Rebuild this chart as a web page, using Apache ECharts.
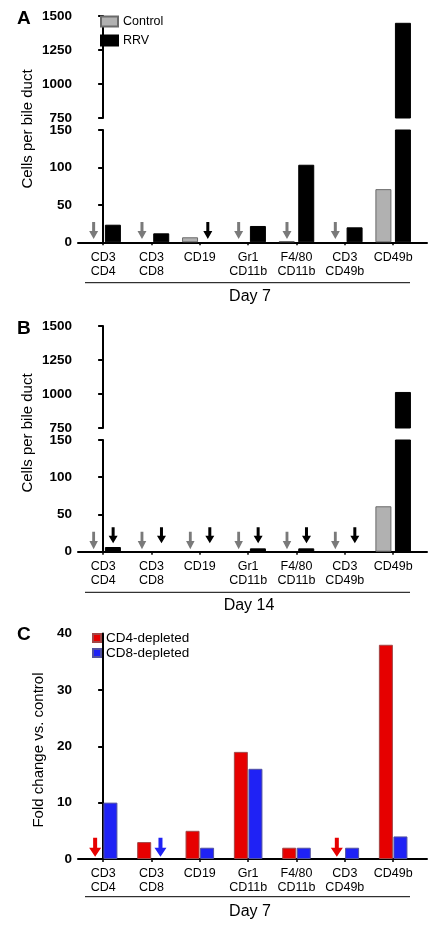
<!DOCTYPE html>
<html>
<head>
<meta charset="utf-8">
<script src="https://cdn.jsdelivr.net/npm/echarts@6/dist/echarts.min.js"></script>
<style>
html,body{margin:0;padding:0;background:#fff;}
#chart{width:439px;height:936px;}
</style>
</head>
<body>
<div id="chart"></div>
<script>
// ---- data ----
const categories = ['CD3\nCD4', 'CD3\nCD8', 'CD19', 'Gr1\nCD11b', 'F4/80\nCD11b', 'CD3\nCD49b', 'CD49b'];
const upperTicks = [750, 1000, 1250, 1500];
const lowerTicks = [0, 50, 100, 150];
const foldTicks = [0, 10, 20, 30, 40];

const day7Control = [0, 0, 6.7, 0, 1.7, 0, 71];
const day7Rrv = [23.5, 12, 0, 21.8, 103.6, 20, 1450];
const day14Control = [0, 0, 0, 0, 0, 0, 61];
const day14Rrv = [6.3, 0, 0, 4.5, 4.5, 0, 1015];
const cd4Depleted = [0, 3, 5, 19, 2, 0, 38];
const cd8Depleted = [10, 0, 2, 16, 2, 2, 4];

// arrows mark undetected populations (1 = arrow shown)
const day7ControlArrows = [1, 1, 0, 1, 1, 1, 0];
const day7RrvArrows = [0, 0, 1, 0, 0, 0, 0];
const day14ControlArrows = [1, 1, 1, 1, 1, 1, 0];
const day14RrvArrows = [1, 1, 1, 1, 1, 1, 0];
const cd4Arrows = [1, 0, 0, 0, 0, 1, 0];
const cd8Arrows = [0, 1, 0, 0, 0, 0, 0];

// ---- styles ----
const FONT = "'Liberation Sans', Arial, Helvetica, sans-serif";
const GRAY = '#b1b1b1', GRAY_BORDER = '#6a6a6a', ARROW_GRAY = '#7a7a7a';
const RED = '#e60000', RED_BORDER = '#a24646';
const BLUE = '#1f22f5', BLUE_BORDER = '#5252a0';
const ARROW_A = 'path://M3,0 L6,0 L6,9 L9,9 L4.5,17 L0,9 L3,9 Z';
const ARROW_C = 'path://M4,0 L8,0 L8,10 L12,10 L6,19 L0,10 L4,10 Z';

const idx = categories.map((c, i) => i);
const toPairs = (arr, keep) => arr.map((v, i) => [i, (v > 0 && keep(v)) ? v : '-']);
const arrowPts = (flags, y) => flags.map((f, i) => f ? [i, y] : null).filter(Boolean);

const X_MIN = -0.52, X_MAX = 6.7;
function xAxis(gridIndex, show) {
  return {
    type: 'value', gridIndex, min: X_MIN, max: X_MAX, show,
    splitLine: { show: false },
    axisLine: { show: true, onZero: false, lineStyle: { color: '#000', width: 2 } },
    axisTick: { show: true, customValues: idx, length: 3, lineStyle: { color: '#000', width: 1.5 } },
    axisLabel: {
      show: true, customValues: idx, formatter: v => categories[Math.round(v)] || '',
      fontFamily: FONT, fontSize: 12.5, lineHeight: 14, color: '#000', margin: 8
    }
  };
}
function yAxis(gridIndex, ticks) {
  return {
    type: 'value', gridIndex, min: ticks[0], max: ticks[ticks.length - 1],
    interval: ticks[1] - ticks[0],
    splitLine: { show: false },
    axisLine: { show: true, lineStyle: { color: '#000', width: 2 } },
    axisTick: { show: true, length: 5, lineStyle: { color: '#000', width: 2 } },
    axisLabel: { fontFamily: FONT, fontSize: 13.5, fontWeight: 'bold', color: '#000', margin: 6,
      formatter: v => String(v) }
  };
}
function bar(name, xi, yi, data, color, border, width, gap) {
  return {
    type: 'bar', name, xAxisIndex: xi, yAxisIndex: yi, data,
    barWidth: width, barGap: gap, clip: true,
    itemStyle: { color, borderColor: border, borderWidth: 1 }
  };
}
function arrows(xi, yi, pts, color, path, size, dx) {
  return {
    type: 'scatter', xAxisIndex: xi, yAxisIndex: yi, data: pts, z: 5,
    symbol: path, symbolSize: size, symbolOffset: [dx, 0], symbolKeepAspect: false,
    itemStyle: { color, opacity: 1 }, silent: true
  };
}

const grids = [
  { left: 78, right: 12, top: 16, height: 102 },
  { left: 78, right: 12, top: 130, height: 112.3 },
  { left: 78, right: 12, top: 326, height: 102 },
  { left: 78, right: 12, top: 440, height: 111.7 },
  { left: 78, right: 12, top: 633.5, height: 225.5 }
];

const always = () => true;
const aboveBreak = v => v > upperTicks[0];

const option = {
  animation: false,
  backgroundColor: '#fff',
  grid: grids,
  xAxis: [xAxis(0, false), xAxis(1, true), xAxis(2, false), xAxis(3, true), xAxis(4, true)],
  yAxis: [yAxis(0, upperTicks), yAxis(1, lowerTicks), yAxis(2, upperTicks), yAxis(3, lowerTicks), yAxis(4, foldTicks)],
  legend: [
    {
      data: ['Control', 'RRV'], orient: 'vertical', left: 100, top: 15, padding: 0,
      icon: 'rect', itemWidth: 17, itemHeight: 10, itemGap: 6,
      textStyle: { fontFamily: FONT, fontSize: 12.5, color: '#000', lineHeight: 10 },
      selectedMode: false
    },
    {
      data: ['CD4-depleted', 'CD8-depleted'], orient: 'vertical', left: 92, top: 631, padding: 0,
      icon: 'rect', itemWidth: 8, itemHeight: 8, itemGap: 1,
      textStyle: { fontFamily: FONT, fontSize: 13.5, color: '#000', lineHeight: 14 },
      selectedMode: false
    }
  ],
  series: [
    // Panel A
    bar('Control', 0, 0, toPairs(day7Control, aboveBreak), GRAY, GRAY_BORDER, 16, '22%'),
    bar('RRV', 0, 0, toPairs(day7Rrv, aboveBreak), '#000', '#000', 16, '22%'),
    bar('Control', 1, 1, toPairs(day7Control, always), GRAY, GRAY_BORDER, 16, '22%'),
    bar('RRV', 1, 1, toPairs(day7Rrv, always), '#000', '#000', 16, '22%'),
    arrows(1, 1, arrowPts(day7ControlArrows, 15.7), ARROW_GRAY, ARROW_A, [9, 17], -9.5),
    arrows(1, 1, arrowPts(day7RrvArrows, 15.7), '#000', ARROW_A, [9, 17], 8),
    // Panel B
    bar('Control', 2, 2, toPairs(day14Control, aboveBreak), GRAY, GRAY_BORDER, 16, '22%'),
    bar('RRV', 2, 2, toPairs(day14Rrv, aboveBreak), '#000', '#000', 16, '22%'),
    bar('Control', 3, 3, toPairs(day14Control, always), GRAY, GRAY_BORDER, 16, '22%'),
    bar('RRV', 3, 3, toPairs(day14Rrv, always), '#000', '#000', 16, '22%'),
    arrows(3, 3, arrowPts(day14ControlArrows, 15), ARROW_GRAY, ARROW_A, [8.5, 17.5], -9.5),
    arrows(3, 3, arrowPts(day14RrvArrows, 22), '#000', ARROW_A, [9, 16], 10),
    // Panel C
    bar('CD4-depleted', 4, 4, toPairs(cd4Depleted, always), RED, RED_BORDER, 14, '4%'),
    bar('CD8-depleted', 4, 4, toPairs(cd8Depleted, always), BLUE, BLUE_BORDER, 14, '4%'),
    arrows(4, 4, arrowPts(cd4Arrows, 2.1), RED, ARROW_C, [12, 19], -8),
    arrows(4, 4, arrowPts(cd8Arrows, 2.1), BLUE, ARROW_C, [12, 19], 9)
  ],
  graphic: [
    { type: 'text', x: 17, y: 9, style: { text: 'A', font: "bold 19px " + FONT, fill: '#000' } },
    { type: 'text', x: 17, y: 319, style: { text: 'B', font: "bold 19px " + FONT, fill: '#000' } },
    { type: 'text', x: 17, y: 625, style: { text: 'C', font: "bold 19px " + FONT, fill: '#000' } },
    { type: 'text', x: 28, y: 129, rotation: Math.PI / 2,
      style: { text: 'Cells per bile duct', font: "15px " + FONT, fill: '#000', align: 'center', verticalAlign: 'middle' } },
    { type: 'text', x: 28, y: 433, rotation: Math.PI / 2,
      style: { text: 'Cells per bile duct', font: "15px " + FONT, fill: '#000', align: 'center', verticalAlign: 'middle' } },
    { type: 'text', x: 39, y: 750, rotation: Math.PI / 2,
      style: { text: 'Fold change vs. control', font: "15px " + FONT, fill: '#000', align: 'center', verticalAlign: 'middle' } },
    { type: 'line', shape: { x1: 85, y1: 282.7, x2: 410, y2: 282.7 }, style: { stroke: '#000', lineWidth: 1 } },
    { type: 'line', shape: { x1: 85, y1: 592.3, x2: 410, y2: 592.3 }, style: { stroke: '#000', lineWidth: 1 } },
    { type: 'line', shape: { x1: 85, y1: 896.7, x2: 410, y2: 896.7 }, style: { stroke: '#000', lineWidth: 1 } },
    { type: 'text', x: 250, y: 297, style: { text: 'Day 7', font: "16px " + FONT, fill: '#000', align: 'center', verticalAlign: 'middle' } },
    { type: 'text', x: 249, y: 606, style: { text: 'Day 14', font: "16px " + FONT, fill: '#000', align: 'center', verticalAlign: 'middle' } },
    { type: 'text', x: 250, y: 912, style: { text: 'Day 7', font: "16px " + FONT, fill: '#000', align: 'center', verticalAlign: 'middle' } }
  ]
};

const chart = echarts.init(document.getElementById('chart'), null, { renderer: 'canvas' });
chart.setOption(option);
</script>
</body>
</html>
